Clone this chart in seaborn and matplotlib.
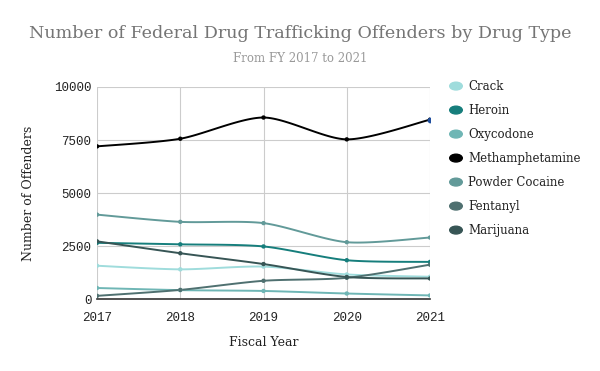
import numpy as np
import pandas as pd
import matplotlib
matplotlib.use("Agg")
import matplotlib.pyplot as plt
import seaborn as sns

# values
years = [2017, 2018, 2019, 2020, 2021]
crack = [1570, 1400, 1530, 1160, 1050]
heroin = [2650, 2580, 2480, 1830, 1750]
oxycodone = [520, 420, 380, 260, 170]
meth = [7200, 7560, 8560, 7530, 8460]
powder = [3980, 3640, 3580, 2680, 2900]
fentanyl = [150, 430, 860, 1000, 1620]
marijuana = [2720, 2160, 1650, 1040, 970]

drugs = ["Crack", "Heroin", "Oxycodone", "Methamphetamine",
         "Powder Cocaine", "Fentanyl", "Marijuana"]
series = [crack, heroin, oxycodone, meth, powder, fentanyl, marijuana]
colors = ["#9fdcdc", "#167e7c", "#6fb6b5", "#000000",
          "#629a99", "#4f7070", "#375555"]

df = pd.DataFrame({
    "year": years * len(drugs),
    "drug": np.repeat(drugs, len(years)),
    "count": np.concatenate(series),
})


def smooth(x, y, n=30, t=0.4):
    # cardinal spline through the points, only for drawing the curve
    x = np.asarray(x, float)
    y = np.asarray(y, float)
    px = np.concatenate([[x[0]], x, [x[-1]]])
    py = np.concatenate([[y[0]], y, [y[-1]]])
    xs, ys = [], []
    for i in range(1, len(px) - 2):
        m1x = t * (px[i + 1] - px[i - 1]); m1y = t * (py[i + 1] - py[i - 1])
        m2x = t * (px[i + 2] - px[i]); m2y = t * (py[i + 2] - py[i])
        s = np.linspace(0, 1, n)
        h00 = 2 * s**3 - 3 * s**2 + 1
        h10 = s**3 - 2 * s**2 + s
        h01 = -2 * s**3 + 3 * s**2
        h11 = s**3 - s**2
        xs.append(h00 * px[i] + h10 * m1x + h01 * px[i + 1] + h11 * m2x)
        ys.append(h00 * py[i] + h10 * m1y + h01 * py[i + 1] + h11 * m2y)
    return np.concatenate(xs), np.concatenate(ys)


sns.set_style("white")
plt.rcParams["font.family"] = ["DejaVu Serif"]

fig = plt.figure(figsize=(6, 3.71), dpi=100)
ax = fig.add_axes([0.1617, 0.194, 0.555, 0.5715])

for name, col in zip(drugs, colors):
    sub = df[df["drug"] == name]
    sx, sy = smooth(sub["year"], sub["count"])
    ax.plot(sx, sy, color=col, lw=1.4, zorder=3)

sns.scatterplot(data=df, x="year", y="count", hue="drug", palette=colors,
                hue_order=drugs, s=10, edgecolor="none", ax=ax, zorder=4,
                legend=False)
# highlighted last point
ax.scatter([years[-1]], [meth[-1]], s=10, color="#1f4e9e", zorder=5)

ax.set_xlim(2017, 2021)
ax.set_ylim(0, 10000)
ax.set_xticks(years)
ax.set_yticks([0, 2500, 5000, 7500, 10000])
ax.set_xticklabels([str(y) for y in years], family="Liberation Mono",
                   fontsize=9, color="#222222")
ax.set_yticklabels(["0", "2500", "5000", "7500", "10000"],
                   family="Liberation Mono", fontsize=9, color="#222222")
ax.tick_params(axis="y", length=0, pad=4)
ax.tick_params(axis="x", length=0, pad=9)
ax.grid(True, color="#cccccc", lw=0.8)
for s in ["top", "right", "left"]:
    ax.spines[s].set_visible(False)
ax.spines["bottom"].set_color("#333333")
ax.spines["bottom"].set_linewidth(1.2)

ax.set_xlabel("Fiscal Year", fontsize=9, color="#222222", labelpad=9)
ax.set_ylabel("Number of Offenders", fontsize=9, color="#222222", labelpad=14)

# legend
for i, (name, col) in enumerate(zip(drugs, colors)):
    yy = 0.768 - i * 0.0647
    fig.patches.append(plt.Circle((456 / 600, yy), 0.0105, color=col,
                                  transform=fig.transFigure,
                                  figure=fig))
    fig.text(468 / 600, yy, name, fontsize=8.5, va="center", color="#222222")

fig.text(0.5, 0.911, "Number of Federal Drug Trafficking Offenders by Drug Type",
         ha="center", va="center", fontsize=12.6, color="#757575")
fig.text(0.5, 0.841, "From FY 2017 to 2021", ha="center", va="center",
         fontsize=8.5, color="#999999")

fig.savefig("out.png", dpi=100)
